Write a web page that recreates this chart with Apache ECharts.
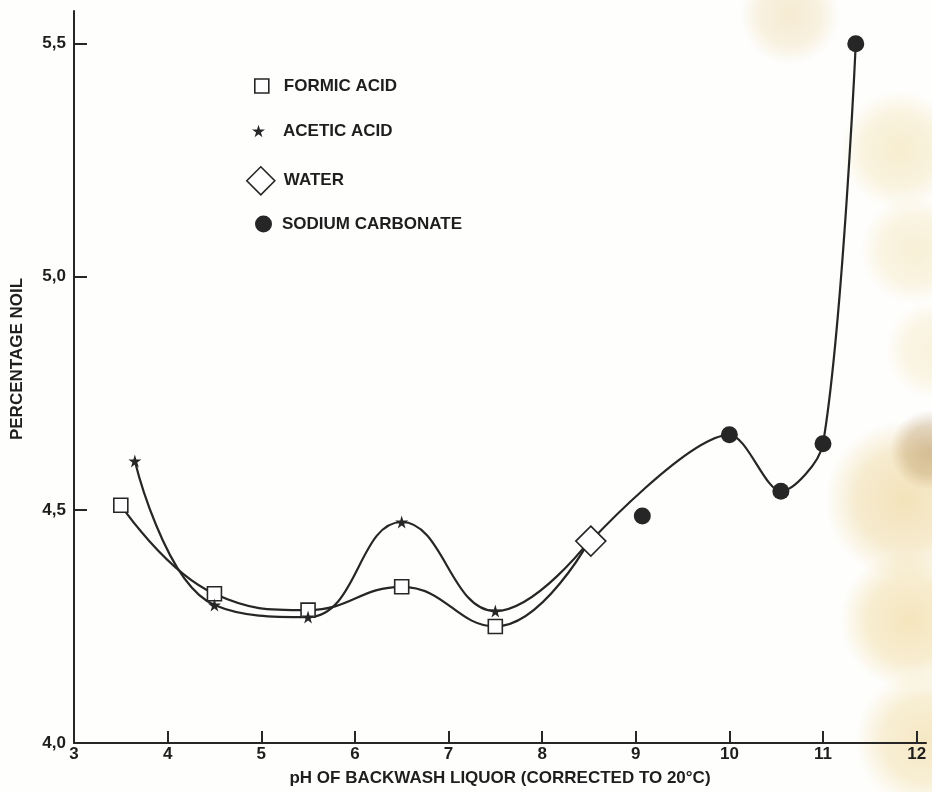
<!DOCTYPE html>
<html>
<head>
<meta charset="utf-8">
<script src="https://cdn.jsdelivr.net/npm/echarts@6/dist/echarts.min.js"></script>
<style>html,body{margin:0;padding:0;background:#fefefd;}#c{width:932px;height:792px;}</style>
</head>
<body>
<div id="c"></div>
<script>
// ---- data ----
var xTicks = [3, 4, 5, 6, 7, 8, 9, 10, 11, 12];
var yTicks = [4.0, 4.5, 5.0, 5.5];
var formicX = [3.5, 4.5, 5.5, 6.5, 7.5, 8.5];
var formicY = [4.51, 4.32, 4.285, 4.335, 4.25, 4.433];
var aceticX = [3.65, 4.5, 5.5, 6.5, 7.5, 8.5];
var aceticY = [4.605, 4.296, 4.27, 4.474, 4.283, 4.433];
var waterX = [8.52];
var waterY = [4.433];
var sodiumLineX = [8.52, 10.0, 10.55, 11.0, 11.35];
var sodiumLineY = [4.433, 4.661, 4.54, 4.642, 5.5];
var sodiumPtX = [9.07];
var sodiumPtY = [4.487];

var INK = '#262626';
var FONT = '"Liberation Sans", Arial, sans-serif';
var STAR = 'path://M50,0 L61,35 L98,35 L68,57 L79,91 L50,70 L21,91 L32,57 L2,35 L39,35 Z';

function zip(xs, ys, hideLast, hideFirst) {
  return xs.map(function (x, i) {
    var d = { value: [x, ys[i]] };
    if ((hideLast && i === xs.length - 1) || (hideFirst && i === 0)) d.symbol = 'none';
    return d;
  });
}
function stain(cx, cy, r, rgb, a) {
  return { type: 'circle', shape: { cx: cx, cy: cy, r: r }, z: -10, silent: true,
    style: { fill: { type: 'radial', x: 0.5, y: 0.5, r: 0.5, colorStops: [
      { offset: 0, color: 'rgba(' + rgb + ',' + a + ')' },
      { offset: 0.6, color: 'rgba(' + rgb + ',' + (a * 0.7) + ')' },
      { offset: 1, color: 'rgba(' + rgb + ',0)' }] } } };
}

var chart = echarts.init(document.getElementById('c'), null, { renderer: 'canvas' });
var legendText = { fontSize: 17, fontWeight: 'bold', fontFamily: FONT, color: '#1e1e1e', lineHeight: 20 };
function lt(pad) { return Object.assign({}, legendText, { padding: [0, 0, 0, pad] }); }

chart.setOption({
  animation: false,
  backgroundColor: '#fefefd',
  graphic: [
    stain(790, 15, 50, '230,200,130', 0.35),
    stain(900, 150, 60, '236,212,140', 0.4),
    stain(915, 250, 55, '236,212,140', 0.35),
    stain(935, 350, 50, '236,212,140', 0.3),
    stain(905, 500, 80, '232,200,120', 0.5),
    stain(930, 450, 40, '170,130,70', 0.45),
    stain(910, 620, 70, '235,205,125', 0.5),
    stain(925, 740, 70, '235,205,125', 0.45)
  ],
  grid: { left: 74, right: 6, top: 11, bottom: 47, containLabel: false },
  legend: [
    { data: [{ name: 'FORMIC ACID', icon: 'rect', itemStyle: { color: '#fff', borderColor: INK, borderWidth: 1.6 } }],
      left: 254, top: 76, itemWidth: 14, itemHeight: 14, padding: 0, textStyle: lt(10), selectedMode: false },
    { data: [{ name: 'ACETIC ACID', icon: STAR, itemStyle: { color: INK } }],
      left: 252, top: 121, itemWidth: 13, itemHeight: 13, padding: 0, textStyle: lt(13), selectedMode: false },
    { data: [{ name: 'WATER', icon: 'diamond', itemStyle: { color: '#fff', borderColor: INK, borderWidth: 1.6 } }],
      left: 246, top: 166, itemWidth: 28, itemHeight: 28, padding: 0, textStyle: lt(4), selectedMode: false },
    { data: [{ name: 'SODIUM CARBONATE', icon: 'circle', itemStyle: { color: INK } }],
      left: 255, top: 214, itemWidth: 17, itemHeight: 17, padding: 0, textStyle: lt(5), selectedMode: false }
  ],
  xAxis: {
    type: 'value', min: 3, max: 12.1, interval: 1,
    name: 'pH OF BACKWASH LIQUOR (CORRECTED TO 20°C)', nameLocation: 'middle', nameGap: 27,
    nameTextStyle: { fontSize: 17, fontWeight: 'bold', fontFamily: FONT, color: '#1e1e1e' },
    axisLine: { show: true, onZero: false, lineStyle: { color: INK, width: 2 } },
    axisTick: { show: true, inside: true, length: 12, customValues: xTicks.slice(1), lineStyle: { color: INK, width: 2 } },
    axisLabel: { customValues: xTicks, margin: 3, fontSize: 17, fontWeight: 'bold', fontFamily: FONT, color: '#1e1e1e' },
    splitLine: { show: false }
  },
  yAxis: {
    type: 'value', min: 4.0, max: 5.57, interval: 0.5,
    name: 'PERCENTAGE NOIL', nameLocation: 'middle', nameRotate: 90, nameGap: 48,
    nameTextStyle: { fontSize: 17, fontWeight: 'bold', fontFamily: FONT, color: '#1e1e1e', padding: [0, 0, 0, 36] },
    axisLine: { show: true, onZero: false, lineStyle: { color: INK, width: 2 } },
    axisTick: { show: true, inside: true, length: 13, customValues: yTicks, lineStyle: { color: INK, width: 2 } },
    axisLabel: { customValues: yTicks, margin: 8, fontSize: 17, fontWeight: 'bold', fontFamily: FONT, color: '#1e1e1e',
      formatter: function (v) { return v.toFixed(1).replace('.', ','); } },
    splitLine: { show: false }
  },
  series: [
    { name: 'FORMIC ACID', type: 'line', smooth: 0.45, data: zip(formicX, formicY, true),
      symbol: 'rect', symbolSize: 14, showAllSymbol: true,
      itemStyle: { color: '#fff', borderColor: INK, borderWidth: 1.6, opacity: 1 },
      lineStyle: { color: INK, width: 2.2 }, z: 3 },
    { name: 'ACETIC ACID', type: 'line', smooth: 0.45, data: zip(aceticX, aceticY, true),
      symbol: STAR, symbolSize: 13, showAllSymbol: true,
      itemStyle: { color: INK, opacity: 1 },
      lineStyle: { color: INK, width: 2.2 }, z: 3 },
    { name: 'SODIUM CARBONATE', type: 'line', smooth: 0.3, data: zip(sodiumLineX, sodiumLineY, false, true),
      symbol: 'circle', symbolSize: 17, showAllSymbol: true,
      itemStyle: { color: INK, opacity: 1 },
      lineStyle: { color: INK, width: 2.2 }, z: 3 },
    { name: 'SODIUM CARBONATE', type: 'scatter', data: zip(sodiumPtX, sodiumPtY),
      symbol: 'circle', symbolSize: 17, itemStyle: { color: INK, opacity: 1 }, z: 4 },
    { name: 'WATER', type: 'scatter', data: zip(waterX, waterY),
      symbol: 'diamond', symbolSize: 30,
      itemStyle: { color: '#fff', borderColor: INK, borderWidth: 1.6, opacity: 1 }, z: 5 }
  ]
});
</script>
</body>
</html>
